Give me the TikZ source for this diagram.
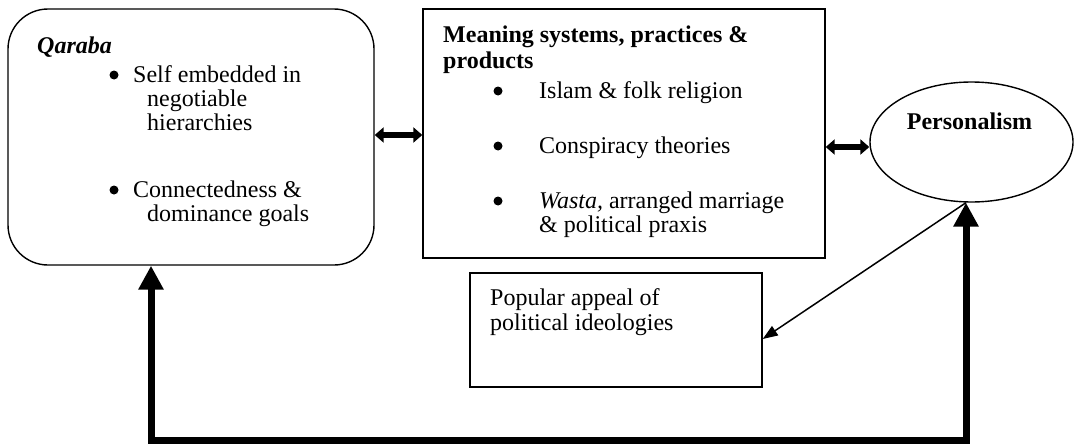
\documentclass[tikz,border=0pt]{standalone}
\usepackage{fontspec}
\setmainfont{Liberation Serif}
\usetikzlibrary{arrows.meta,shapes.geometric}
\begin{document}
\begin{tikzpicture}[x=1pt,y=-1pt,
  boxline/.style={draw=black, line width=1.4pt, inner sep=0pt},
  txt/.style={anchor=base west, inner sep=0pt, font=\fontsize{24}{27}\selectfont},
  dot/.style={circle, fill=black, inner sep=0pt, minimum size=9pt},
  dblarrow/.style={line width=6pt, {Triangle[length=9pt,width=15pt]}-{Triangle[length=9pt,width=15pt]}},
  loopline/.style={line width=7pt, {Triangle[length=24pt,width=24pt]}-{Triangle[length=24pt,width=24pt]}},
  thinarrow/.style={line width=1.5pt, -{Triangle[length=15pt,width=11pt]}}]

\useasboundingbox (0,0) rectangle (1075,444);

% boxes
\node[boxline, rounded corners=40pt, minimum width=366pt, minimum height=256pt] (qaraba) at (191,137) {};
\node[boxline, minimum width=402pt, minimum height=249pt] (meaning) at (624,133.5) {};
\node[boxline, ellipse, minimum width=203pt, minimum height=120pt] (personal) at (971.5,142) {};
\node[boxline, minimum width=292pt, minimum height=114pt] (popular) at (616,330) {};

% text of the Qaraba box
\node[txt] (q0) at (37,53) {\textbf{\textit{Qaraba}}};
\node[dot] (qb1) at (114,75) {};
\node[txt] (q1) at (133,82) {Self embedded in};
\node[txt] (q2) at (147,106) {negotiable};
\node[txt] (q3) at (147,130) {hierarchies};
\node[dot] (qb2) at (114,190) {};
\node[txt] (q4) at (133,197) {Connectedness \&};
\node[txt] (q5) at (147,221) {dominance goals};

% text of the meaning box
\node[txt] (m0) at (443,42) {\textbf{Meaning systems, practices \&}};
\node[txt] (m1) at (443,68) {\textbf{products}};
\node[dot] (mb1) at (498,91) {};
\node[txt] (m2) at (539,98) {Islam \& folk religion};
\node[dot] (mb2) at (498,146) {};
\node[txt] (m3) at (539,153) {Conspiracy theories};
\node[dot] (mb3) at (498,201) {};
\node[txt] (m4) at (539,208) {\textit{Wasta,} arranged marriage};
\node[txt] (m5) at (539,232) {\& political praxis};

% other labels
\node[txt, anchor=base] (p0) at (969.5,129) {\textbf{Personalism}};
\node[txt] (u1) at (490,305) {Popular appeal of};
\node[txt] (u2) at (490,330) {political ideologies};

% connectors
\coordinate (bl) at (151,440);
\coordinate (br) at (966,440);
\draw[dblarrow] (qaraba.east |- 0,135) -- (meaning.west |- 0,135);
\draw[dblarrow] (meaning.east |- 0,147) -- (personal.west |- 0,147);
\draw[loopline] (qaraba.south -| bl) -- (bl) -- (br) -- (personal.south -| br);
\draw[thinarrow] (personal.south -| br) -- (popular.east |- 0,339);

\end{tikzpicture}
\end{document}
